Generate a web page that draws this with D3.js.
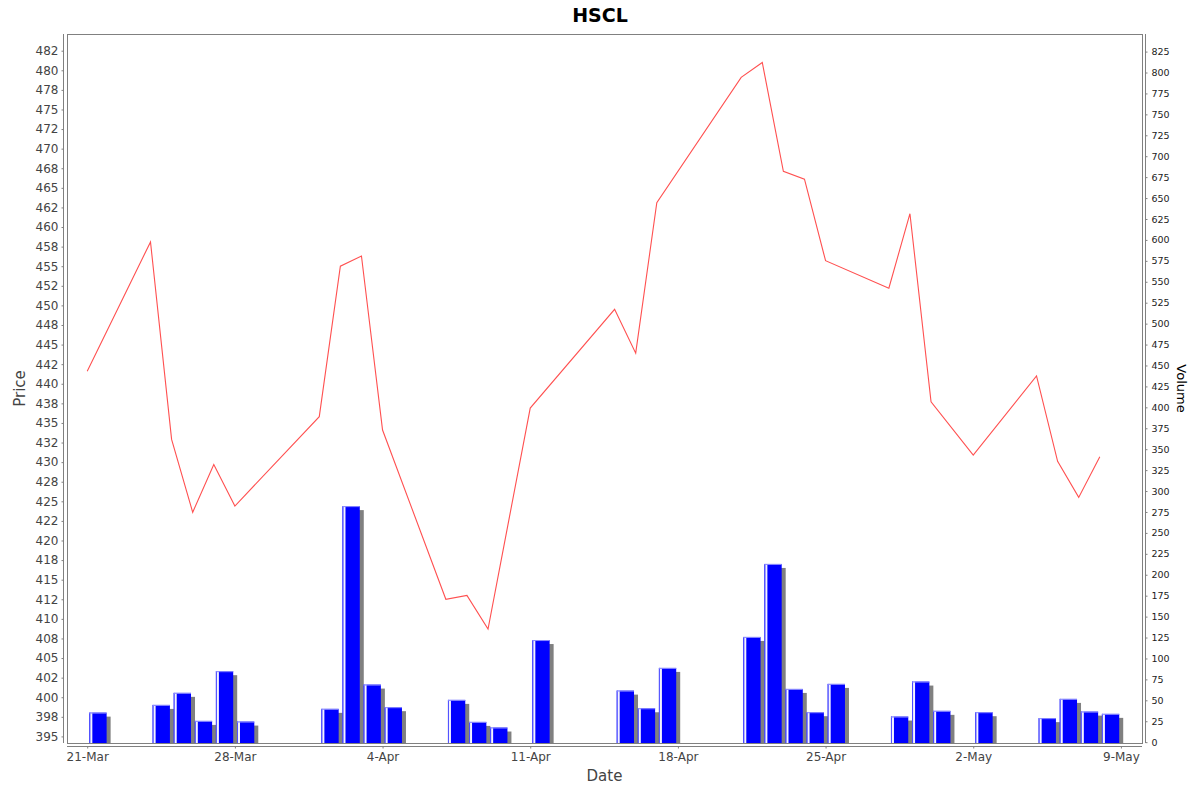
<!DOCTYPE html>
<html>
<head>
<meta charset="utf-8">
<script src="https://cdn.jsdelivr.net/npm/d3@7"></script>
<style>
  html, body { margin: 0; padding: 0; background: #fff; }
  svg { display: block; font-family: "DejaVu Sans", sans-serif; }
</style>
</head>
<body>
<svg id="chart" width="1200" height="792"></svg>
<script>
// ---- data ----
const title = "HSCL";
const dates = ["2025-03-21","2025-03-24","2025-03-25","2025-03-26","2025-03-27","2025-03-28",
  "2025-04-01","2025-04-02","2025-04-03","2025-04-04","2025-04-07","2025-04-08","2025-04-09",
  "2025-04-11","2025-04-15","2025-04-16","2025-04-17","2025-04-21","2025-04-22","2025-04-23",
  "2025-04-24","2025-04-25","2025-04-28","2025-04-29","2025-04-30","2025-05-02","2025-05-05",
  "2025-05-06","2025-05-07","2025-05-08"];
const closePrices = [441.6, 458.1, 432.9, 423.6, 429.7, 424.4,
  435.8, 455.0, 456.3, 434.1, 412.5, 413.0, 408.7,
  436.9, 449.5, 443.9, 463.1, 479.1, 481.0, 467.1,
  466.1, 455.7, 452.2, 461.7, 437.7, 430.9, 441.0,
  430.1, 425.5, 430.7];
const volumes = [35.3, 44.5, 58.9, 25.4, 84.8, 24.6,
  39.8, 282.0, 68.8, 41.8, 50.5, 24.2, 17.5,
  122.0, 61.6, 40.5, 88.7, 125.7, 212.9, 63.6,
  35.8, 69.6, 30.6, 72.4, 37.4, 35.8, 28.7,
  51.7, 36.5, 33.8];
const priceTicks = [395,397.5,400,402.5,405,407.5,410,412.5,415,417.5,420,422.5,425,427.5,430,432.5,
  435,437.5,440,442.5,445,447.5,450,452.5,455,457.5,460,462.5,465,467.5,470,472.5,475,477.5,480,482.5];
const priceTickLabels = ["395","398","400","402","405","408","410","412","415","418","420","422","425","428","430","432",
  "435","438","440","442","445","448","450","452","455","458","460","462","465","468","470","472","475","478","480","482"];
const volumeTicks = d3.range(0, 826, 25);
const dateTicks = ["2025-03-21","2025-03-28","2025-04-04","2025-04-11","2025-04-18","2025-04-25","2025-05-02","2025-05-09"];

// ---- layout ----
const plot = { left: 67, right: 1142, top: 34, bottom: 743 };
const svg = d3.select("#chart");
const parse = d3.utcParse("%Y-%m-%d");
const DAY = 864e5;
const rows = dates.map((d, i) => ({ date: parse(d), price: closePrices[i], vol: volumes[i] }));

const x = d3.scaleUtc()
  .domain([new Date(Date.UTC(2025, 2, 20, 1)), new Date(Date.UTC(2025, 4, 10))])
  .range([plot.left, plot.right]);
const yP = d3.scaleLinear().domain([394.16, 484.63]).range([plot.bottom, plot.top]);
const yV = d3.scaleLinear().domain([-1, 846]).range([plot.bottom, plot.top]);

// plot outline
svg.append("rect")
  .attr("x", plot.left + 0.5).attr("y", plot.top + 0.5)
  .attr("width", plot.right - plot.left).attr("height", plot.bottom - plot.top)
  .attr("fill", "#fff").attr("stroke", "#808080").attr("stroke-width", 1);

// ---- volume bars ----
const barG = svg.append("g");
rows.forEach(r => {
  const x0 = x(new Date(+r.date + 0.1 * DAY));
  const x1 = x(new Date(+r.date + 0.92 * DAY));
  const yt = yV(r.vol);
  const yb = plot.bottom;
  barG.append("rect").attr("x", x0 + 4).attr("y", yt + 4)
    .attr("width", x1 - x0).attr("height", Math.max(0, yb - yt - 4)).attr("fill", "#808080");
  barG.append("rect").attr("x", x0).attr("y", yt)
    .attr("width", x1 - x0).attr("height", yb - yt).attr("fill", "#0000ff");
  barG.append("rect").attr("x", x0).attr("y", yt)
    .attr("width", 1).attr("height", yb - yt).attr("fill", "#5050ff");
  barG.append("rect").attr("x", x0 + 1).attr("y", yt)
    .attr("width", 2).attr("height", yb - yt).attr("fill", "#f4f4ff");
  barG.append("rect").attr("x", x0).attr("y", yt)
    .attr("width", x1 - x0).attr("height", 1).attr("fill", "#8c8cff");
});

// ---- price line ----
const line = d3.line().x(d => x(d.date)).y(d => yP(d.price));
svg.append("path").datum(rows)
  .attr("d", line).attr("fill", "none")
  .attr("stroke", "#ff5050").attr("stroke-width", 1.1);

// ---- axes ----
const axisColor = "#808080";
// left price axis
const leftAxis = svg.append("g").attr("transform", `translate(${plot.left - 3.5},0)`)
  .call(d3.axisLeft(yP).tickValues(priceTicks)
    .tickFormat((d, i) => priceTickLabels[i]).tickSize(2).tickSizeOuter(0).tickPadding(3));
leftAxis.select(".domain").attr("stroke", axisColor).attr("d", `M0,${plot.top}V${plot.bottom}`);
leftAxis.selectAll(".tick line").attr("stroke", axisColor);
leftAxis.selectAll("text").attr("fill", "#444").style("font-size", "12px")
  .style("font-family", "DejaVu Sans, sans-serif");

// right volume axis
const rightAxis = svg.append("g").attr("transform", `translate(${plot.right + 3.5},0)`)
  .call(d3.axisRight(yV).tickValues(volumeTicks).tickSize(2).tickSizeOuter(0).tickPadding(4));
rightAxis.select(".domain").attr("stroke", axisColor).attr("d", `M0,${plot.top}V${plot.bottom}`);
rightAxis.selectAll(".tick line").attr("stroke", axisColor);
rightAxis.selectAll("text").attr("fill", "#222").style("font-size", "9.5px")
  .style("font-family", "DejaVu Sans, sans-serif");

// bottom date axis
const fmt = d3.utcFormat("%-d-%b");
const bottomAxis = svg.append("g").attr("transform", `translate(0,${plot.bottom + 3.5})`)
  .call(d3.axisBottom(x).tickValues(dateTicks.map(parse)).tickFormat(fmt)
    .tickSize(2).tickSizeOuter(0).tickPadding(4));
bottomAxis.select(".domain").attr("stroke", axisColor).attr("d", `M${plot.left},0H${plot.right}`);
bottomAxis.selectAll(".tick line").attr("stroke", axisColor);
bottomAxis.selectAll("text").attr("fill", "#444").style("font-size", "12px")
  .style("font-family", "DejaVu Sans, sans-serif");

// ---- labels ----
svg.append("text").attr("x", 600).attr("y", 21.5).attr("text-anchor", "middle")
  .style("font-size", "19px").style("font-weight", "bold").attr("fill", "#000").text(title);
svg.append("text").attr("x", (plot.left + plot.right) / 2).attr("y", 781).attr("text-anchor", "middle")
  .style("font-size", "15px").attr("fill", "#444").text("Date");
svg.append("text").attr("transform", `translate(25,${(plot.top + plot.bottom) / 2}) rotate(-90)`)
  .attr("text-anchor", "middle").style("font-size", "15px")
  .attr("fill", "#444").text("Price");
svg.append("text").attr("transform", `translate(1177,${(plot.top + plot.bottom) / 2}) rotate(90)`)
  .attr("text-anchor", "middle").style("font-size", "13px").attr("fill", "#000").text("Volume");
</script>
</body>
</html>
